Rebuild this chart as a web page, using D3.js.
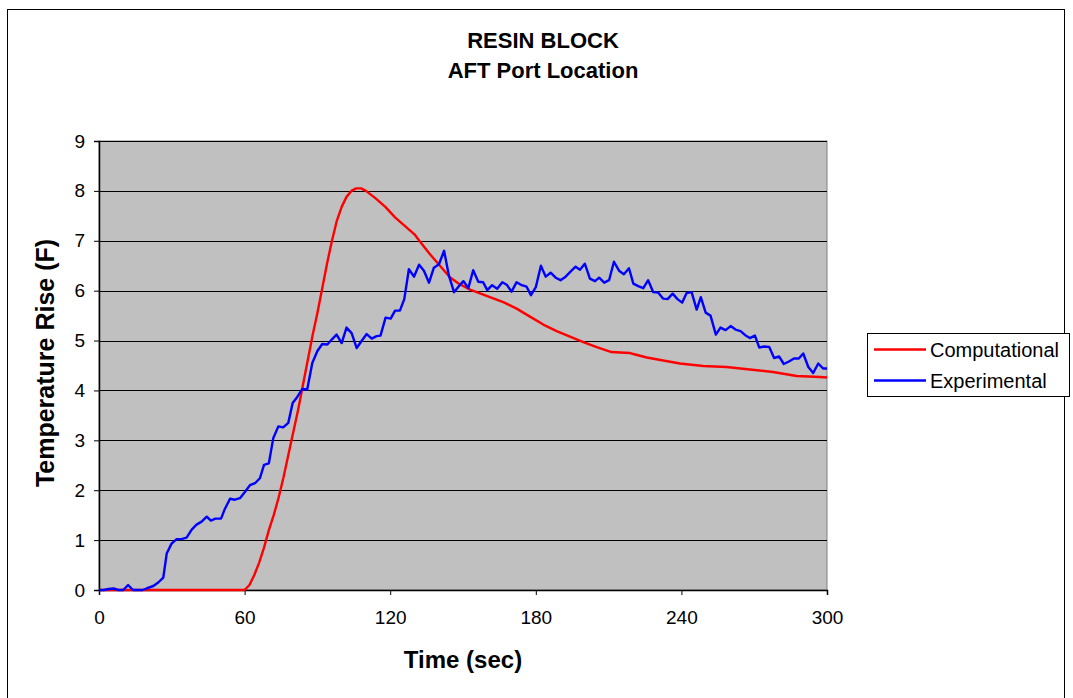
<!DOCTYPE html>
<html>
<head>
<meta charset="utf-8">
<script src="https://cdn.jsdelivr.net/npm/d3@7"></script>
<style>
  html, body { margin: 0; padding: 0; background: #fff; }
  svg { display: block; font-family: "Liberation Sans", Arial, sans-serif; }
</style>
</head>
<body>
<div id="chart"></div>
<script>
// ── data ──────────────────────────────────────────────
const TITLE = ['RESIN BLOCK', 'AFT Port Location'];
const X_TICKS = [0, 60, 120, 180, 240, 300];
const Y_TICKS = [0, 1, 2, 3, 4, 5, 6, 7, 8, 9];

// Computational (red)
const compTime = [0, 20, 40, 60, 62, 64, 66, 68, 70, 72, 74, 76, 78, 80, 82, 84, 86, 88, 90, 92, 94, 96, 98, 100,
  102, 104, 106, 108, 110, 114, 118, 122, 126, 130, 132, 136.4, 140.5, 144.6, 148, 152.9, 161.1, 166.6, 172.1,
  177.6, 183.1, 188.6, 194.1, 199.6, 205.1, 211.2, 214.7, 218.8, 220.2, 225.7, 232.5, 239.4, 249, 258.6, 268.2,
  277.8, 287.5, 297.1, 300];
const compTemp = [0, 0, 0, 0, 0.1, 0.3, 0.55, 0.85, 1.2, 1.5, 1.85, 2.25, 2.7, 3.15, 3.6, 4.1, 4.6, 5.1, 5.55, 6.05,
  6.55, 7.0, 7.4, 7.68, 7.88, 8.0, 8.05, 8.05, 8.0, 7.85, 7.68, 7.47, 7.3, 7.13, 7.0, 6.73, 6.5, 6.27, 6.15, 6.02,
  5.87, 5.77, 5.64, 5.48, 5.32, 5.19, 5.08, 4.97, 4.87, 4.77, 4.76, 4.75, 4.73, 4.66, 4.6, 4.54, 4.49, 4.47, 4.42,
  4.37, 4.29, 4.27, 4.26];

// Experimental (blue)
const expTime = [0, 2, 4, 6, 8, 10, 12, 14, 16, 18, 20, 22.4, 24.4, 26.5, 27.9, 29.9, 32, 34, 36.1, 38.2, 40.2,
  42.3, 44.4, 46.1, 48, 50.3, 51.9, 54, 56, 58.1, 60.2, 62.2, 64.3, 66.3, 68, 70, 71.8, 73.9, 75.9, 78, 79.8, 81.7,
  83.8, 85.8, 87.9, 90, 92, 94.1, 96.1, 97.9, 100, 102, 104.1, 106.2, 108.2, 110.3, 112.4, 114.4, 116, 118.1, 120.2,
  122, 124, 125.8, 127.7, 129.8, 131.9, 133.9, 136, 138, 140.1, 142.2, 144.2, 146.3, 148.3, 150.2, 152.2, 154.2,
  156.3, 158.3, 160, 162, 164.1, 166.2, 168, 170, 172.1, 174.2, 176.2, 178, 180, 182.1, 184.1, 186.1, 188.2, 190.2,
  192.3, 194.3, 196.4, 198.2, 200.2, 202.3, 204.4, 206.1, 208.2, 210.2, 212.2, 214.3, 216.3, 218.4, 220.2, 222.2,
  224.3, 226.3, 228.4, 230.5, 232.5, 234.3, 236.4, 238.4, 240.3, 242.1, 244.2, 246.3, 248, 250, 252, 254.2, 256.1,
  258.2, 260.3, 262.3, 264.4, 266.5, 268.2, 270.3, 272.1, 274.1, 276.2, 278.2, 280.3, 282.2, 284.3, 286.4, 288.4,
  290.2, 292.3, 294.3, 296.4, 298.4, 300];
const expTemp = [0, 0, 0.02, 0.03, 0, 0, 0.1, 0, 0, 0, 0.04, 0.08, 0.15, 0.25, 0.73, 0.93, 1.02, 1.02, 1.05, 1.21,
  1.31, 1.37, 1.47, 1.39, 1.43, 1.43, 1.63, 1.83, 1.81, 1.84, 1.97, 2.1, 2.14, 2.24, 2.51, 2.54, 3.04, 3.28, 3.26,
  3.35, 3.75, 3.87, 4.03, 4.02, 4.55, 4.79, 4.93, 4.92, 5.03, 5.12, 4.95, 5.26, 5.15, 4.85, 4.99, 5.13, 5.04, 5.09,
  5.1, 5.46, 5.44, 5.6, 5.6, 5.83, 6.43, 6.28, 6.52, 6.4, 6.16, 6.46, 6.53, 6.8, 6.3, 5.97, 6.09, 6.19, 6.05, 6.41,
  6.18, 6.17, 6.01, 6.11, 6.04, 6.17, 6.12, 5.98, 6.17, 6.11, 6.08, 5.91, 6.07, 6.5, 6.28, 6.36, 6.26, 6.21, 6.28,
  6.38, 6.48, 6.42, 6.54, 6.24, 6.19, 6.26, 6.16, 6.21, 6.58, 6.4, 6.33, 6.45, 6.14, 6.09, 6.05, 6.21, 5.97, 5.96,
  5.84, 5.83, 5.94, 5.83, 5.76, 5.95, 5.97, 5.62, 5.87, 5.56, 5.5, 5.12, 5.26, 5.21, 5.29, 5.22, 5.19, 5.1, 5.05,
  5.1, 4.86, 4.88, 4.87, 4.65, 4.68, 4.53, 4.58, 4.64, 4.64, 4.74, 4.47, 4.35, 4.54, 4.44, 4.44];

const SERIES = [
  { name: 'Computational', color: '#FF0000', t: compTime, v: compTemp },
  { name: 'Experimental', color: '#0000FF', t: expTime, v: expTemp },
];

// ── layout ────────────────────────────────────────────
const W = 1073, H = 698;
const plot = { left: 99, right: 827, top: 141, bottom: 590 };

const svg = d3.select('#chart').append('svg')
  .attr('width', W).attr('height', H);

// outer chart frame
svg.append('rect')
  .attr('x', 7.5).attr('y', 9.5)
  .attr('width', 1057).attr('height', 700)
  .attr('fill', '#fff').attr('stroke', '#000').attr('stroke-width', 1);

const x = d3.scaleLinear().domain([0, 300]).range([plot.left, plot.right]);
const y = d3.scaleLinear().domain([0, 9]).range([plot.bottom, plot.top]);

// plot area background
svg.append('rect')
  .attr('x', plot.left).attr('y', plot.top)
  .attr('width', plot.right - plot.left).attr('height', plot.bottom - plot.top)
  .attr('fill', '#C0C0C0').attr('stroke', '#808080').attr('stroke-width', 1);

// gridlines
svg.append('g')
  .selectAll('line')
  .data(Y_TICKS.filter(d => d > 0))
  .join('line')
  .attr('x1', plot.left).attr('x2', plot.right)
  .attr('y1', d => Math.round(y(d)) + 0.5).attr('y2', d => Math.round(y(d)) + 0.5)
  .attr('stroke', '#000').attr('stroke-width', 1);

// axes
const xAxis = svg.append('g')
  .attr('transform', `translate(0,${plot.bottom})`)
  .call(d3.axisBottom(x).tickValues(X_TICKS).tickSize(5).tickPadding(16).tickFormat(d3.format('d')));
const yAxis = svg.append('g')
  .attr('transform', `translate(${plot.left},0)`)
  .call(d3.axisLeft(y).tickValues(Y_TICKS).tickSize(5).tickPadding(9).tickFormat(d3.format('d')));

[xAxis, yAxis].forEach(g => {
  g.select('.domain').attr('stroke', '#000').attr('stroke-width', 1.5);
  g.selectAll('.tick line').attr('stroke', '#000');
  g.selectAll('.tick text')
    .attr('fill', '#000')
    .style('font-size', '19px')
    .style('font-family', '"Liberation Sans", Arial, sans-serif');
});

// series lines
const line = d3.line()
  .x(d => x(d[0]))
  .y(d => y(d[1]));

svg.append('g')
  .selectAll('path')
  .data(SERIES)
  .join('path')
  .attr('d', s => line(d3.zip(s.t, s.v)))
  .attr('fill', 'none')
  .attr('stroke', s => s.color)
  .attr('stroke-width', 2.4)
  .attr('stroke-linejoin', 'round');

// titles
svg.append('g')
  .selectAll('text')
  .data(TITLE)
  .join('text')
  .attr('x', 543)
  .attr('y', (d, i) => 48 + i * 30)
  .attr('text-anchor', 'middle')
  .style('font-size', '22px')
  .style('font-weight', 'bold')
  .text(d => d);

svg.append('text')
  .attr('x', 463).attr('y', 668)
  .attr('text-anchor', 'middle')
  .style('font-size', '24px').style('font-weight', 'bold')
  .text('Time (sec)');

svg.append('text')
  .attr('transform', 'translate(54,363) rotate(-90)')
  .attr('text-anchor', 'middle')
  .style('font-size', '25px').style('font-weight', 'bold')
  .text('Temperature Rise (F)');

// legend
const legend = svg.append('g');
legend.append('rect')
  .attr('x', 867.5).attr('y', 333.5)
  .attr('width', 202).attr('height', 63)
  .attr('fill', '#fff').attr('stroke', '#000');

const item = legend.selectAll('g.item')
  .data(SERIES)
  .join('g')
  .attr('class', 'item')
  .attr('transform', (d, i) => `translate(0,${349.5 + i * 31})`);
item.append('line')
  .attr('x1', 874).attr('x2', 926)
  .attr('stroke', d => d.color).attr('stroke-width', 2.4);
item.append('text')
  .attr('x', 930).attr('y', 7)
  .style('font-size', '20px')
  .text(d => d.name);
</script>
</body>
</html>
